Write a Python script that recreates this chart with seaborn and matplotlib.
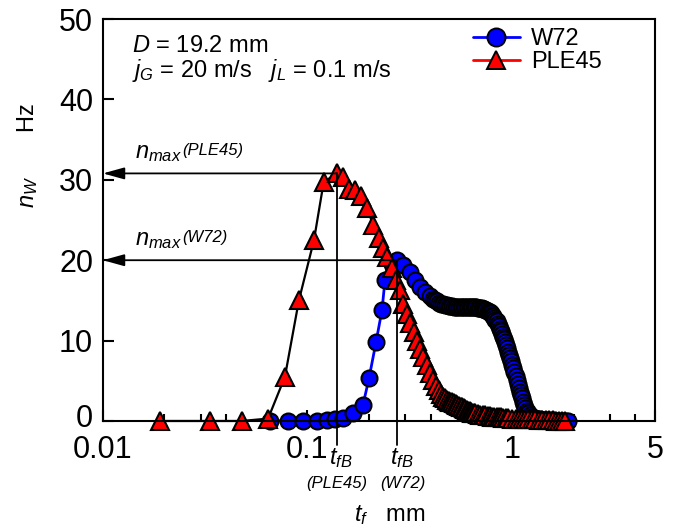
import matplotlib
matplotlib.use("Agg")
import matplotlib.pyplot as plt
import matplotlib.transforms as mtransforms
from matplotlib.lines import Line2D
from matplotlib.ticker import FixedLocator, NullFormatter
import seaborn as sns

# ---- data -------------------------------------------------------------
# film thickness t_f (mm) and wave frequency n_W (Hz)
w72_tf = [0.0656, 0.0803, 0.0950, 0.1113, 0.1246, 0.1363, 0.1491, 0.1669,
          0.1868, 0.1999, 0.2163, 0.2314, 0.2393, 0.2590, 0.2740, 0.2931,
          0.3171, 0.3356, 0.3549, 0.3754, 0.3972, 0.41, 0.42, 0.43, 0.44,
          0.45, 0.46, 0.47, 0.48, 0.49, 0.50, 0.51, 0.52, 0.53, 0.54, 0.55,
          0.56, 0.57, 0.58, 0.59, 0.60, 0.61, 0.62, 0.63, 0.64, 0.65, 0.66,
          0.67, 0.68, 0.69, 0.70, 0.71, 0.72, 0.73, 0.74, 0.75, 0.76, 0.77,
          0.78, 0.79, 0.80, 0.81, 0.82, 0.83, 0.84, 0.85, 0.86, 0.87, 0.88,
          0.89, 0.90, 0.91, 0.92, 0.93, 0.94, 0.955, 0.965, 0.98, 0.99, 1.00,
          1.01, 1.02, 1.04, 1.06, 1.07, 1.08, 1.095, 1.11, 1.12, 1.13, 1.145,
          1.16, 1.18, 1.20, 1.225, 1.25, 1.28, 1.31, 1.34, 1.37, 1.41, 1.45,
          1.49, 1.53, 1.58, 1.63, 1.68, 1.73, 1.78, 1.83, 1.88]
w72_nw = [0.0, 0.0, 0.0, 0.0, 0.1, 0.2, 0.4, 1.0,
          2.0, 5.3, 9.8, 13.8, 17.5, 19.5, 20.0, 19.4,
          18.5, 17.5, 16.7, 16.0, 15.5, 15.2, 15.0, 14.9, 14.7,
          14.6, 14.5, 14.4, 14.4, 14.3, 14.3, 14.3, 14.2, 14.2, 14.2, 14.2,
          14.2, 14.2, 14.2, 14.2, 14.2, 14.2, 14.2, 14.2, 14.2, 14.2, 14.2,
          14.2, 14.1, 14.1, 14.0, 14.0, 13.9, 13.9, 13.8, 13.8, 13.7, 13.6,
          13.5, 13.4, 13.2, 13.0, 12.8, 12.6, 12.4, 12.1, 11.8, 11.5, 11.2,
          10.8, 10.5, 10.2, 9.8, 9.5, 9.1, 8.6, 8.2, 7.8, 7.4, 7.0,
          6.6, 6.1, 5.6, 5.1, 4.6, 4.1, 3.6, 3.2, 2.8, 2.4, 2.0,
          1.6, 1.3, 1.0, 0.7, 0.5, 0.4, 0.3, 0.25, 0.2, 0.15, 0.15,
          0.1, 0.1, 0.1, 0.05, 0.05, 0.0, 0.0, 0.0, 0.0]

ple45_tf = [0.0190, 0.0333, 0.0478, 0.0642, 0.0776, 0.0908, 0.1076, 0.1200,
            0.1387, 0.1500, 0.1600, 0.1700, 0.1830, 0.1960, 0.2090, 0.2230,
            0.2330, 0.2450, 0.2590, 0.2700, 0.2820, 0.2930, 0.3050, 0.3170,
            0.3300, 0.3430, 0.3560, 0.3680, 0.3820, 0.3960, 0.4100, 0.4240,
            0.4380, 0.4500, 0.4600, 0.4700, 0.4800, 0.4900, 0.5000, 0.5100,
            0.5200, 0.5300, 0.5400, 0.5500, 0.5600, 0.5700, 0.5800, 0.5900,
            0.6000, 0.6100, 0.6200, 0.6300, 0.6400, 0.6500, 0.6600, 0.6800,
            0.7000, 0.7200, 0.7400, 0.7600, 0.7800, 0.8000, 0.8200, 0.8400,
            0.8600, 0.8800, 0.9000, 0.9300, 0.9600, 1.0000, 1.0400, 1.0800,
            1.1200, 1.1600, 1.2000, 1.2500, 1.3000, 1.3500, 1.4000, 1.4600,
            1.5200, 1.5800, 1.6400, 1.7000, 1.7600, 1.8200]
ple45_nw = [0.0, 0.0, 0.0, 0.3, 5.5, 15.0, 22.5, 29.7,
            30.8, 30.3, 28.8, 28.7, 28.0, 26.5, 24.4, 22.8,
            21.5, 20.4, 19.0, 17.6, 16.3, 14.6, 13.3, 12.2,
            11.1, 10.0, 9.0, 8.0, 7.0, 6.0, 5.1, 4.4,
            3.8, 3.3, 3.0, 2.8, 2.6, 2.5, 2.4, 2.3,
            2.2, 2.1, 2.0, 1.9, 1.8, 1.7, 1.6, 1.5,
            1.4, 1.3, 1.2, 1.1, 1.05, 1.0, 0.95, 0.9,
            0.8, 0.75, 0.7, 0.65, 0.6, 0.55, 0.5, 0.5,
            0.45, 0.45, 0.4, 0.4, 0.35, 0.3, 0.3, 0.3,
            0.25, 0.25, 0.2, 0.2, 0.2, 0.15, 0.15, 0.1,
            0.1, 0.1, 0.05, 0.05, 0.0, 0.0]

# film thickness at the frequency maximum and the maximum itself
tfb_ple45, nmax_ple45 = 0.1387, 30.8
tfb_w72, nmax_w72 = 0.2740, 20.0

series_names = ["W72", "PLE45"]
x_ticks = [0.01, 0.1, 1, 5]
x_tick_labels = ["0.01", "0.1", "1", "5"]
x_minor_ticks = [0.02, 0.03, 0.04, 0.2, 0.3, 0.4, 2, 3, 4]
y_ticks = [0, 10, 20, 30, 40, 50]

# ---- style ------------------------------------------------------------
sns.set_theme(style="ticks", rc={
    "axes.edgecolor": "black", "xtick.color": "black", "ytick.color": "black",
    "text.color": "black", "axes.labelcolor": "black",
    "axes.linewidth": 1.5,
})
plt.rcParams["font.family"] = ["Liberation Sans", "DejaVu Sans"]
plt.rcParams["mathtext.fontset"] = "custom"
plt.rcParams["mathtext.rm"] = "Liberation Sans"
plt.rcParams["mathtext.it"] = "Liberation Sans:italic"
plt.rcParams["mathtext.bf"] = "Liberation Sans:bold"

BLUE = "#0000ff"
RED = "#ff0000"

fig, ax = plt.subplots(figsize=(6.77, 5.30), dpi=100)
fig.subplots_adjust(left=0.152, right=0.9675, bottom=0.2057, top=0.964)
ax.set_xscale("log")

sns.lineplot(x=w72_tf, y=w72_nw, ax=ax, sort=False, estimator=None,
             color=BLUE, linewidth=2.0, marker="o", markersize=11.5,
             markerfacecolor=BLUE, markeredgecolor="black",
             markeredgewidth=1.5, legend=False)
sns.lineplot(x=ple45_tf, y=ple45_nw, ax=ax, sort=False, estimator=None,
             color="black", linewidth=1.6, marker="^", markersize=12.5,
             markerfacecolor=RED, markeredgecolor="black",
             markeredgewidth=1.5, legend=False)
for ln in ax.lines:
    ln.set_clip_on(False)

ax.set_xlim(0.01, 5)
ax.set_ylim(0, 50)
ax.set_xticks(x_ticks)
ax.set_xticklabels(x_tick_labels)
ax.xaxis.set_minor_locator(FixedLocator(x_minor_ticks))
ax.xaxis.set_minor_formatter(NullFormatter())
ax.set_yticks(y_ticks)
ax.tick_params(axis="x", which="major", direction="in", length=8, width=1.5,
               labelsize=22, pad=10, top=False)
ax.tick_params(axis="x", which="minor", direction="in", length=5, width=1.5,
               top=False)
ax.tick_params(axis="y", which="major", direction="in", length=8, width=1.5,
               labelsize=22, pad=7, right=False)
for s in ax.spines.values():
    s.set_visible(True)
    s.set_linewidth(1.5)
    s.set_color("black")

# lift the "0" on the n axis a little so it clears the "0.01" below it
zero_lab = ax.yaxis.get_major_ticks()[0].label1
zero_lab.set_transform(zero_lab.get_transform() +
                       mtransforms.ScaledTranslation(0, 4 / 72, fig.dpi_scale_trans))

# axis titles
ax.set_xlabel(r"$t_f$   mm", fontsize=17)
ax.xaxis.set_label_coords(0.52, -0.205)
ax.set_ylabel(r"$n_W$       Hz", fontsize=17)
ax.yaxis.set_label_coords(-0.114, 0.66)

# conditions
ax.text(0.0525, 0.918, r"$D$ = 19.2 mm", transform=ax.transAxes,
        fontsize=17, va="baseline", ha="left")
ax.text(0.0525, 0.856, r"$j_G$ = 20 m/s   $j_L$ = 0.1 m/s",
        transform=ax.transAxes, fontsize=17, va="baseline", ha="left")

# maxima: arrows to the n axis and drop lines to the t_f axis
trans = mtransforms.blended_transform_factory(ax.transData, ax.transAxes)
for tfb, nmax, name, lab_y, t_left, name_x in [
        (tfb_ple45, nmax_ple45, "PLE45", 32.7, 0.1274, tfb_ple45),
        (tfb_w72, nmax_w72, "W72", 21.9, 0.2532, 0.2931)]:
    ax.annotate("", xy=(0.01, nmax), xytext=(tfb, nmax),
                arrowprops=dict(arrowstyle="-|>,head_length=0.65,head_width=0.18",
                                color="black", lw=1.3, shrinkA=0, shrinkB=0,
                                mutation_scale=20),
                annotation_clip=False)
    ax.plot([tfb, tfb], [nmax, -3.0], color="black", lw=1.3, clip_on=False)
    t_n = ax.text(0.01435, lab_y, r"$n_{max}$", fontsize=17,
                  va="baseline", ha="left")
    ax.annotate(f"({name})", xy=(1, 0), xycoords=t_n, xytext=(0.5, 4),
                textcoords="offset points", fontsize=12, style="italic",
                va="bottom", ha="left")
    ax.text(t_left, -0.062, r"$t_{fB}$", transform=trans, fontsize=17,
            va="top", ha="left", clip_on=False)
    ax.text(name_x, -0.137, f"({name})", transform=trans, fontsize=12,
            style="italic", va="top", ha="center", clip_on=False)

# legend
handles = [
    Line2D([], [], color=BLUE, lw=2.0, marker="o", markersize=13,
           markerfacecolor=BLUE, markeredgecolor="black", markeredgewidth=1.4),
    Line2D([], [], color=RED, lw=2.0, marker="^", markersize=13,
           markerfacecolor=RED, markeredgecolor="black", markeredgewidth=1.4),
]
ax.legend(handles, series_names, loc="upper left",
          bbox_to_anchor=(0.670, 0.978), borderpad=0, borderaxespad=0,
          handlelength=2.0, handletextpad=0.45, labelspacing=0.05,
          frameon=False, fontsize=17)

fig.savefig("out.png", dpi=100, facecolor="white")
